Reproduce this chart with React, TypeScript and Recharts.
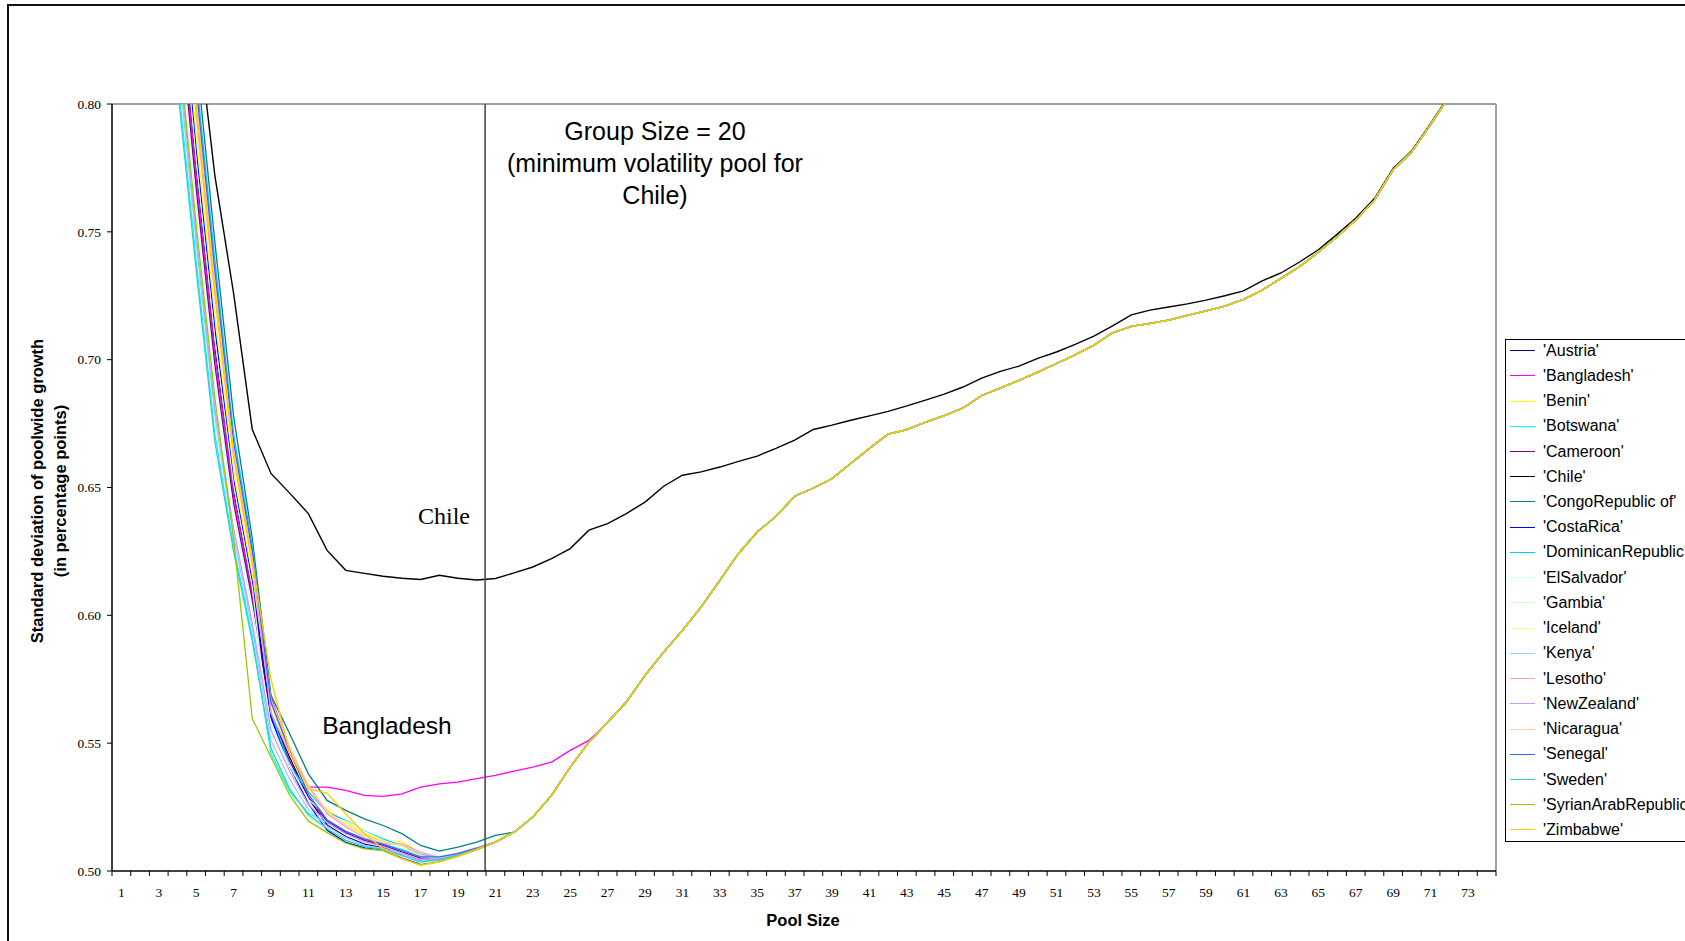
import React from "react";
import { LineChart, Line, XAxis, YAxis, ReferenceLine } from "recharts";

// pool sizes on the x axis
const poolSizes = Array.from({ length: 74 }, (_, i) => i + 1);

// all countries except Chile and Bangladesh end up on this same curve from size 22 on
const sharedTail = [
  0.5152, 0.5211, 0.5296, 0.5406, 0.5504, 0.5582, 0.5661, 0.5765, 0.5856, 0.5941,
  0.6033, 0.6137, 0.6242, 0.6326, 0.6387, 0.6466, 0.6498, 0.6535, 0.6594, 0.6653,
  0.6709, 0.6726, 0.6756, 0.6781, 0.6811, 0.686, 0.6889, 0.6919, 0.6951, 0.6985,
  0.7019, 0.7057, 0.7105, 0.713, 0.7142, 0.7155, 0.7173, 0.7191, 0.7209, 0.7236,
  0.7272, 0.7318, 0.7364, 0.742, 0.7481, 0.7546, 0.7624, 0.7742, 0.7813, 0.7918,
  0.803, 0.815, 0.828,
];
const tailStart = 22;

// sizes 1..21 (Bangladesh 1..26)
const austria = [1.213, 1.072, 0.951, 0.853, 0.775, 0.705, 0.649, 0.609, 0.561, 0.5445, 0.5285, 0.518, 0.5135, 0.5105, 0.509, 0.5065, 0.5042, 0.5048, 0.5064, 0.5087, 0.5113];
const bangladesh = [1.205, 1.065, 0.945, 0.849, 0.771, 0.702, 0.647, 0.608, 0.568, 0.548, 0.5328, 0.5328, 0.5315, 0.5296, 0.5292, 0.5302, 0.5328, 0.5341, 0.5348, 0.5361, 0.5374, 0.5391, 0.5406, 0.5426, 0.5472, 0.5511];
const benin = [1.243, 1.098, 0.973, 0.869, 0.789, 0.718, 0.657, 0.616, 0.565, 0.546, 0.531, 0.524, 0.519, 0.5145, 0.5118, 0.5115, 0.507, 0.5052, 0.5065, 0.5088, 0.5113];
const botswana = [1.138, 1.007, 0.896, 0.811, 0.739, 0.671, 0.627, 0.592, 0.5459, 0.531, 0.5225, 0.519, 0.5155, 0.5125, 0.5105, 0.5085, 0.506, 0.5055, 0.507, 0.509, 0.5113];
const cameroon = [1.198, 1.059, 0.94, 0.844, 0.767, 0.698, 0.644, 0.606, 0.56, 0.543, 0.529, 0.5195, 0.515, 0.512, 0.51, 0.5075, 0.505, 0.5052, 0.5066, 0.5088, 0.5113];
const chile = [
  1.4, 1.1, 0.96, 0.88, 0.835, 0.772, 0.726, 0.6727, 0.6555, 0.6478,
  0.6398, 0.6254, 0.6176, 0.6164, 0.6153, 0.6145, 0.614, 0.6157, 0.6145, 0.6138,
  0.6144, 0.6166, 0.6189, 0.6222, 0.6261, 0.6333, 0.6359, 0.6398, 0.6443, 0.6505,
  0.6548, 0.6561, 0.658, 0.6602, 0.6623, 0.6653, 0.6685, 0.6727, 0.6744, 0.6763,
  0.678, 0.6798, 0.6819, 0.6842, 0.6865, 0.6893, 0.6928, 0.6954, 0.6975, 0.7005,
  0.703, 0.706, 0.7092, 0.7132, 0.7175, 0.7194, 0.7206, 0.7218, 0.7233, 0.725,
  0.7269, 0.7308, 0.7339, 0.7382, 0.743, 0.749, 0.7553, 0.763, 0.7748, 0.7818,
  0.7923, 0.8035, 0.8155, 0.8285,
];
const congo = [1.306, 1.153, 1.02, 0.907, 0.819, 0.746, 0.678, 0.63, 0.5687, 0.5537, 0.538, 0.5276, 0.5237, 0.5204, 0.5178, 0.5146, 0.51, 0.5078, 0.5093, 0.5113, 0.5139];
const costaRica = [1.228, 1.085, 0.962, 0.861, 0.782, 0.712, 0.653, 0.613, 0.56, 0.541, 0.5263, 0.5159, 0.5112, 0.509, 0.5082, 0.505, 0.5026, 0.5039, 0.5059, 0.5084, 0.5113];
const dominican = [1.289, 1.138, 1.007, 0.896, 0.811, 0.739, 0.671, 0.627, 0.562, 0.541, 0.531, 0.523, 0.5198, 0.5159, 0.5126, 0.51, 0.5068, 0.505, 0.5065, 0.5088, 0.5113];
const elSalvador = [1.183, 1.046, 0.929, 0.836, 0.76, 0.691, 0.64, 0.602, 0.557, 0.541, 0.528, 0.5215, 0.5195, 0.516, 0.513, 0.5105, 0.507, 0.5058, 0.507, 0.509, 0.5113];
const gambia = [1.22, 1.078, 0.956, 0.857, 0.778, 0.708, 0.651, 0.611, 0.548, 0.533, 0.521, 0.517, 0.513, 0.51, 0.5085, 0.507, 0.503, 0.5038, 0.5058, 0.5084, 0.5113];
const iceland = [1.25, 1.104, 0.978, 0.873, 0.793, 0.722, 0.659, 0.618, 0.566, 0.5475, 0.532, 0.523, 0.5175, 0.5135, 0.511, 0.5095, 0.5058, 0.505, 0.5064, 0.5087, 0.5113];
const kenya = [1.153, 1.02, 0.907, 0.819, 0.746, 0.678, 0.631, 0.595, 0.551, 0.536, 0.524, 0.5175, 0.513, 0.51, 0.5088, 0.5065, 0.504, 0.5048, 0.5064, 0.5087, 0.5113];
const lesotho = [1.258, 1.111, 0.984, 0.878, 0.796, 0.725, 0.662, 0.62, 0.562, 0.546, 0.533, 0.5224, 0.5172, 0.513, 0.5106, 0.5106, 0.5074, 0.5052, 0.507, 0.509, 0.5113];
const newZealand = [1.16, 1.026, 0.912, 0.824, 0.749, 0.681, 0.634, 0.597, 0.555, 0.539, 0.526, 0.519, 0.5145, 0.5115, 0.5095, 0.507, 0.5045, 0.505, 0.5066, 0.5088, 0.5113];
const nicaragua = [1.273, 1.124, 0.995, 0.886, 0.803, 0.732, 0.666, 0.623, 0.567, 0.5485, 0.5335, 0.5235, 0.518, 0.514, 0.5115, 0.51, 0.506, 0.5052, 0.5066, 0.5088, 0.5113];
const senegal = [1.28, 1.13, 1.0, 0.89, 0.807, 0.735, 0.668, 0.625, 0.566, 0.547, 0.53, 0.52, 0.5155, 0.5125, 0.5105, 0.508, 0.5055, 0.5055, 0.5068, 0.5089, 0.5113];
const sweden = [1.13, 1.0, 0.89, 0.807, 0.735, 0.668, 0.625, 0.59, 0.548, 0.532, 0.522, 0.5165, 0.512, 0.5095, 0.5085, 0.506, 0.5035, 0.5045, 0.5062, 0.5086, 0.5113];
const syria = [1.168, 1.033, 0.918, 0.828, 0.753, 0.685, 0.63, 0.5596, 0.5446, 0.5296, 0.5195, 0.515, 0.5109, 0.5087, 0.508, 0.5048, 0.5024, 0.5037, 0.5057, 0.5083, 0.5113];
const zimbabwe = [1.265, 1.117, 0.989, 0.882, 0.8, 0.728, 0.664, 0.622, 0.575, 0.5465, 0.5322, 0.5305, 0.5224, 0.5146, 0.5087, 0.5048, 0.5022, 0.5035, 0.5057, 0.5085, 0.5113];

const series = [
  { name: "Austria", color: "#000080", values: austria },
  { name: "Bangladesh", color: "#FF00FF", values: bangladesh },
  { name: "Benin", color: "#FFFF00", values: benin },
  { name: "Botswana", color: "#00FFFF", values: botswana },
  { name: "Cameroon", color: "#800080", values: cameroon },
  { name: "Chile", color: "#000000", values: chile },
  { name: "CongoRepublic of", color: "#008080", values: congo },
  { name: "CostaRica", color: "#0000FF", values: costaRica },
  { name: "DominicanRepublic", color: "#00CCFF", values: dominican },
  { name: "ElSalvador", color: "#CCFFFF", values: elSalvador },
  { name: "Gambia", color: "#CCFFCC", values: gambia },
  { name: "Iceland", color: "#FFFF99", values: iceland },
  { name: "Kenya", color: "#99CCFF", values: kenya },
  { name: "Lesotho", color: "#FF99CC", values: lesotho },
  { name: "NewZealand", color: "#CC99FF", values: newZealand },
  { name: "Nicaragua", color: "#FFCC99", values: nicaragua },
  { name: "Senegal", color: "#3366FF", values: senegal },
  { name: "Sweden", color: "#33CCCC", values: sweden },
  { name: "SyrianArabRepublic", color: "#99CC00", values: syria },
  { name: "Zimbabwe", color: "#FFCC00", values: zimbabwe },
];

const yTicks = [0.5, 0.55, 0.6, 0.65, 0.7, 0.75, 0.8];
const xLabelTicks = [1, 3, 5, 7, 9, 11, 13, 15, 17, 19, 21, 23, 25, 27, 29, 31, 33, 35, 37, 39, 41, 43, 45, 47, 49, 51, 53, 55, 57, 59, 61, 63, 65, 67, 69, 71, 73];
const minVolPool = 20;

// tick marks go between categories, labels on odd sizes
const xTicks = [
  ...poolSizes.map((s) => s - 0.5),
  74.5,
  ...xLabelTicks,
].sort((a, b) => a - b);

const rows = poolSizes.map((size, i) => {
  const row: any = { size };
  series.forEach((s) => {
    row[s.name] = i < s.values.length ? s.values[i] : sharedTail[size - tailStart];
  });
  return row;
});

const serif = "'Liberation Serif', 'Times New Roman', serif";
const sans = "'Liberation Sans', Arial, sans-serif";

const PoolTick = (props: any) => {
  const { x, y, payload } = props;
  const v = payload.value;
  if (v % 1 !== 0) {
    return <line x1={x} x2={x} y1={y - 5} y2={y} stroke="#000" strokeWidth={1} />;
  }
  return (
    <text x={x} y={y + 21} textAnchor="middle" fontFamily={serif} fontSize={13.5} fill="#000">
      {v}
    </text>
  );
};

export default function App() {
  return (
    <div style={{ position: "fixed", left: 0, top: 0, width: 1685, height: 941, overflow: "hidden", background: "#fff" }}>
      <div style={{ position: "absolute", left: 7, top: 4, width: 1720, height: 990, border: "2px solid #111", boxSizing: "border-box" }} />
      <div style={{ position: "absolute", left: 0, top: 0 }}>
        <LineChart width={1685} height={941} data={rows} margin={{ top: 104, right: 189, bottom: 40, left: 52 }}>
          <ReferenceLine y={0.8} stroke="#a0a0a0" strokeWidth={2} ifOverflow="visible" />
          <ReferenceLine x={74.5} stroke="#a0a0a0" strokeWidth={2} ifOverflow="visible" />
          <XAxis
            type="number"
            dataKey="size"
            domain={[0.5, 74.5]}
            ticks={xTicks}
            interval={0}
            height={30}
            tickLine={false}
            tickSize={5}
            tickMargin={0}
            tick={<PoolTick />}
            axisLine={{ stroke: "#000", strokeWidth: 1.5 }}
          />
          <YAxis
            type="number"
            domain={[0.5, 0.8]}
            ticks={yTicks}
            allowDataOverflow
            width={60}
            interval={0}
            tickSize={5}
            tickMargin={6}
            tickFormatter={(v: number) => v.toFixed(2)}
            tick={{ fontFamily: serif, fontSize: 13.5, fill: "#000" }}
            tickLine={{ stroke: "#000" }}
            axisLine={{ stroke: "#000", strokeWidth: 1.5 }}
          />
          {series.map((s) => (
            <Line
              key={s.name}
              type="linear"
              dataKey={s.name}
              stroke={s.color}
              strokeWidth={s.name === "Chile" ? 1.4 : 1.3}
              dot={false}
              activeDot={false}
              isAnimationActive={false}
            />
          ))}
          <ReferenceLine x={minVolPool + 0.45} stroke="#4d4d4d" strokeWidth={1.6} ifOverflow="visible" />
        </LineChart>
      </div>

      {/* y axis title */}
      <div
        style={{
          position: "absolute", left: -161, top: 468, width: 420, height: 46,
          transform: "rotate(-90deg)", textAlign: "center",
          fontFamily: sans, fontWeight: "bold", fontSize: 16.5, lineHeight: "23px", color: "#000",
        }}
      >
        Standard deviation of poolwide growth
        <br />
        (in percentage points)
      </div>

      {/* x axis title */}
      <div style={{ position: "absolute", left: 703, top: 909, width: 200, textAlign: "center", fontFamily: sans, fontWeight: "bold", fontSize: 16.5, lineHeight: "22px" }}>
        Pool Size
      </div>

      {/* annotations */}
      <div style={{ position: "absolute", left: 455, top: 115, width: 400, textAlign: "center", fontFamily: sans, fontSize: 25, lineHeight: "32px" }}>
        Group Size = 20
        <br />
        (minimum volatility pool for
        <br />
        Chile)
      </div>
      <div style={{ position: "absolute", left: 394, top: 501, width: 100, textAlign: "center", fontFamily: serif, fontSize: 24, lineHeight: "30px" }}>
        Chile
      </div>
      <div style={{ position: "absolute", left: 287, top: 711, width: 200, textAlign: "center", fontFamily: sans, fontSize: 24.5, lineHeight: "30px" }}>
        Bangladesh
      </div>

      {/* legend */}
      <div style={{ position: "absolute", left: 1505, top: 339, width: 260, height: 501, border: "1px solid #000", background: "#fff", fontFamily: sans, fontSize: 16, color: "#000" }}>
        {series.map((s, i) => (
          <div key={s.name} style={{ position: "absolute", left: 0, top: -2 + i * 25.23, height: 25.23, display: "flex", alignItems: "center", whiteSpace: "nowrap" }}>
            <div style={{ marginLeft: 4, width: 25, height: 0, borderTop: `1.5px solid ${s.color}` }} />
            <span style={{ marginLeft: 8 }}>'{s.name}'</span>
          </div>
        ))}
      </div>
    </div>
  );
}
